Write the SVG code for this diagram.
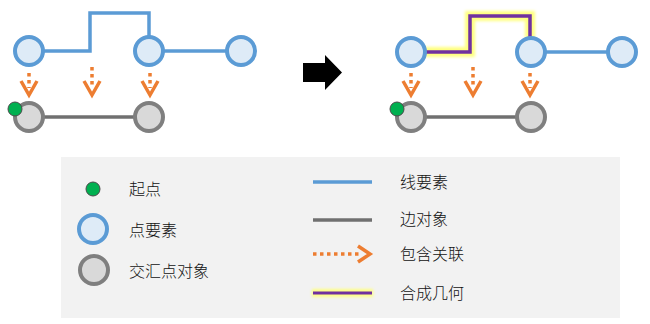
<svg xmlns="http://www.w3.org/2000/svg" width="650" height="324" viewBox="0 0 650 324">
<defs>
<filter id="soft" filterUnits="userSpaceOnUse" x="0" y="0" width="650" height="324">
<feGaussianBlur stdDeviation="1.5"/>
</filter>
</defs>
<style>
.pt{fill:#DEEBF7;stroke:#5B9BD5;stroke-width:4}
.jn{fill:#D9D9D9;stroke:#7F7F7F;stroke-width:4}
.st{fill:#00B050;stroke:#4a4a4a;stroke-width:1}
.bl{fill:none;stroke:#5B9BD5;stroke-width:3.5}
.ed{fill:none;stroke:#707070;stroke-width:3.5}
.glow{fill:none;stroke:#FFFF80;stroke-width:10;filter:url(#soft)}
.pu{fill:none;stroke:#7030A0;stroke-width:3.5}
.dots{fill:none;stroke:#ED7D31;stroke-width:3.5;stroke-dasharray:3.5 3.5}
.chev{fill:none;stroke:#ED7D31;stroke-width:3.5;stroke-linejoin:miter}
.t{font-family:"Noto Sans CJK SC","Noto Sans",sans-serif;font-size:16px;font-weight:300;fill:#111}
</style>
<rect x="0" y="0" width="650" height="324" fill="#ffffff"/>
<g id="connectors">
<polyline class="bl" points="43,51 90,51 90,13 149,13 149,37"/>
<line class="bl" x1="163" y1="51" x2="227" y2="51"/>
<line class="ed" x1="43" y1="117" x2="135" y2="117"/>
<line class="dots" x1="29" y1="73" x2="29" y2="88"/>
<polyline class="chev" points="21,81 29,95 37,81"/>
<line class="dots" x1="92" y1="67" x2="92" y2="88"/>
<polyline class="chev" points="84,81 92,95 100,81"/>
<line class="dots" x1="150" y1="73" x2="150" y2="88"/>
<polyline class="chev" points="142,81 150,95 158,81"/>
<polyline class="glow" points="425,52 470,52 470,16 530,16 530,38"/>
<polyline class="pu" points="425,52 470,52 470,16 530,16 530,38"/>
<line class="bl" x1="545" y1="52" x2="608" y2="52"/>
<line class="ed" x1="425" y1="117" x2="517" y2="117"/>
<line class="dots" x1="411" y1="73" x2="411" y2="88"/>
<polyline class="chev" points="403,81 411,95 419,81"/>
<line class="dots" x1="473" y1="67" x2="473" y2="88"/>
<polyline class="chev" points="465,81 473,95 481,81"/>
<line class="dots" x1="530" y1="73" x2="530" y2="88"/>
<polyline class="chev" points="522,81 530,95 538,81"/>
</g>
<g id="left-nodes">
<circle class="pt" cx="29" cy="51" r="14"/>
<circle class="pt" cx="149" cy="51" r="14"/>
<circle class="pt" cx="241" cy="51" r="14"/>
<circle class="jn" cx="29" cy="117" r="14"/>
<circle class="jn" cx="149" cy="117" r="14"/>
<circle class="st" cx="15" cy="109" r="7"/>
</g>
<g id="transform-arrow">
<polygon points="303,63 325,63 325,55 342,72.5 325,90 325,82 303,82" fill="#000"/>
</g>
<g id="right-nodes">
<circle class="pt" cx="411" cy="52" r="14"/>
<circle class="pt" cx="531" cy="52" r="14"/>
<circle class="pt" cx="622" cy="52" r="14"/>
<circle class="jn" cx="411" cy="117" r="14"/>
<circle class="jn" cx="531" cy="117" r="14"/>
<circle class="st" cx="397" cy="109" r="7"/>
</g>
<g id="legend">
<rect x="61" y="157" width="559" height="161" fill="#F2F2F2"/>
<circle class="st" cx="93" cy="189" r="7"/>
<text class="t" x="129" y="195">起点</text>
<circle class="pt" cx="93" cy="229" r="14"/>
<text class="t" x="129" y="236">点要素</text>
<circle class="jn" cx="94" cy="270" r="14"/>
<text class="t" x="129" y="277">交汇点对象</text>
<line class="bl" x1="313" y1="182" x2="372" y2="182"/>
<text class="t" x="400" y="188">线要素</text>
<line class="ed" x1="313" y1="220" x2="372" y2="220"/>
<text class="t" x="400" y="225">边对象</text>
<line class="dots" x1="313" y1="254" x2="360" y2="254"/>
<polyline class="chev" points="358,246 370,254 358,262"/>
<text class="t" x="400" y="260">包含关联</text>
<line class="glow" x1="312" y1="293" x2="373" y2="293" style="stroke-width:8"/>
<line class="pu" x1="313" y1="293" x2="372" y2="293" style="stroke-width:3"/>
<text class="t" x="400" y="299">合成几何</text>
</g>
</svg>
